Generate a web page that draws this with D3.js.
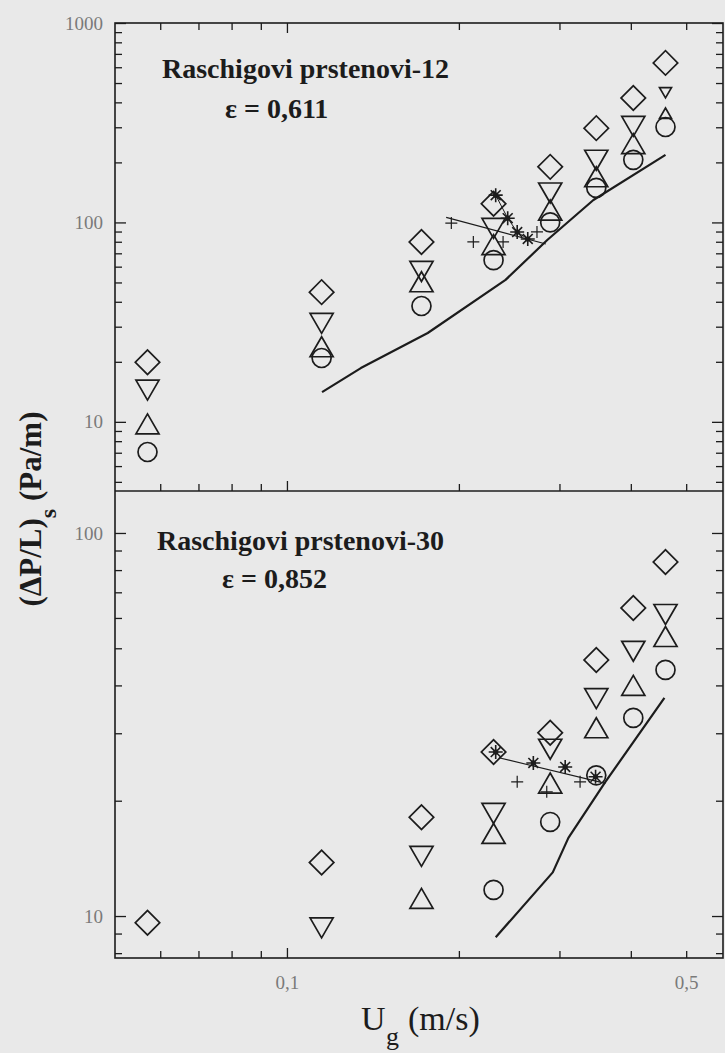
<!DOCTYPE html>
<html>
<head>
<meta charset="utf-8">
<script src="https://cdn.jsdelivr.net/npm/d3@7"></script>
<style>
  body { margin: 0; background: #e9e9e9; }
  svg { display: block; }
  text { font-family: "Liberation Serif", "Times New Roman", serif; }
</style>
</head>
<body>
<svg id="chart"></svg>
<script>
// gas velocity columns (m/s)
const ugCols = [0.057, 0.115, 0.172, 0.23, 0.289, 0.348, 0.404, 0.46]

// panel A - Raschig rings 12, eps = 0,611
const aDiamond = [19.9, 44.7, 79.8, 124, 190, 297, 421, 631]
const aDownTri = [15.0, 32.4, 59, 97, 146, 213, 315, 456]
const aUpTri = [9.4, 22.9, 48.5, 74.5, 111, 163, 239, 346]
const aCircle = [7.06, 20.9, 38.1, 64.7, 100, 149, 206, 301]
const aLineU = [0.1152, 0.1347, 0.1764, 0.2414, 0.2856, 0.344, 0.46]
const aLineP = [14.1, 18.6, 27.9, 51.5, 81.6, 129.5, 218]
const aStarU = [0.232, 0.2435, 0.253, 0.264]
const aStarP = [137, 105, 89.5, 82.6]
const aPlusU = [0.194, 0.212, 0.239, 0.274]
const aPlusP = [99.3, 79.8, 79.8, 89.6]
const aFitU = [0.19, 0.284]
const aFitP = [106, 78]

// panel B - Raschig rings 30, eps = 0,852
const bDiamond = [9.6, 13.8, 18.1, 26.8, 30.1, 46.6, 63.7, 84]
const bDownTri = [null, 9.5, 14.6, 18.9, 27.8, 37.7, 50.1, 62.5]
const bUpTri = [null, null, 10.9, 16.1, 21.8, 30.4, 39.2, 52.6]
const bCircle = [null, null, null, 11.7, 17.6, 23.3, 32.9, 43.9]
const bLineU = [0.232, 0.292, 0.311, 0.361, 0.458]
const bLineP = [8.8, 13.0, 16.0, 22.4, 37.1]
const bStarU = [0.232, 0.270, 0.307, 0.347]
const bStarP = [26.8, 25.1, 24.5, 23.1]
const bPlusU = [0.253, 0.285, 0.326]
const bPlusP = [22.4, 21.1, 22.4]
const bFitU = [0.235, 0.361]
const bFitP = [25.9, 22.2]

const xMinor = [0.06, 0.07, 0.08, 0.09, 0.2, 0.3, 0.4, 0.5]
const xMajor = [0.1]
const xLabels = { 0.1: "0,1", 0.5: "0,5" }

const width = 725, height = 1053
const ink = "#1c1c1c"
const fLeft = 115, fRight = 723, fTop = 23, fMid = 491, fBottom = 958

const svg = d3.select("#chart").attr("width", width).attr("height", height)
svg.append("rect").attr("width", width).attr("height", height).attr("fill", "#e9e9e9")

const x = d3.scaleLog().domain([0.05, 0.58]).range([fLeft, fRight])
const yA = d3.scaleLog().domain([4.5, 1000]).range([fMid, fTop])
const yB = d3.scaleLog().domain([7.77, 128.7]).range([fBottom, fMid])

const decadeTicks = (lo, hi) => {
  let out = []
  for (let e = -2; e < 4; e++) for (let m = 1; m < 10; m++) {
    let v = m * Math.pow(10, e)
    if (v >= lo && v <= hi) out.push(+v.toPrecision(3))
  }
  return out
}

const styleAxis = g => {
  g.select(".domain").remove()
  g.selectAll(".tick line").attr("stroke", ink).attr("stroke-width", 1.3)
  g.selectAll(".tick text").attr("fill", "#7a7a7a").style("font-size", "19px")
    .style("font-family", "'Liberation Serif', serif")
  return g
}

const yAxes = (y, lo, hi, majors) => {
  let vals = decadeTicks(lo, hi)
  let gl = svg.append("g").attr("transform", `translate(${fLeft},0)`)
    .call(d3.axisLeft(y).tickValues(vals).tickSize(-7).tickPadding(12)
      .tickFormat(d => majors.includes(d) ? d : ""))
  styleAxis(gl)
  gl.selectAll(".tick line").attr("x2", d => majors.includes(d) ? 11 : 7)
  let gr = svg.append("g").attr("transform", `translate(${fRight},0)`)
    .call(d3.axisRight(y).tickValues(vals).tickSize(-7).tickFormat(""))
  styleAxis(gr)
  gr.selectAll(".tick line").attr("x2", d => majors.includes(d) ? -11 : -7)
}

yAxes(yA, 4.5, 1000, [10, 100, 1000])
yAxes(yB, 7.77, 128.7, [10, 100])

const xVals = [...xMinor, ...xMajor]
const xAxisAt = (yPos, dir, labels) => {
  let ax = dir > 0 ? d3.axisTop(x) : d3.axisBottom(x)
  let g = svg.append("g").attr("transform", `translate(0,${yPos})`)
    .call(ax.tickValues(xVals).tickSize(-7).tickPadding(18)
      .tickFormat(d => labels ? (xLabels[d] || "") : ""))
  styleAxis(g)
  g.selectAll(".tick line").attr("y2", d => (xMajor.includes(d) ? 10 : 7) * (dir > 0 ? 1 : -1))
}
xAxisAt(fTop, 1, false)
xAxisAt(fMid, -1, false)
xAxisAt(fBottom, -1, true)

// frame
svg.append("rect").attr("x", fLeft).attr("y", fTop).attr("width", fRight - fLeft).attr("height", fBottom - fTop)
  .attr("fill", "none").attr("stroke", ink).attr("stroke-width", 1.6)
svg.append("line").attr("x1", fLeft).attr("x2", fRight).attr("y1", fMid).attr("y2", fMid)
  .attr("stroke", ink).attr("stroke-width", 1.6)

// markers
const shapes = {
  diamond: { type: d3.symbolSquare, size: 300, rot: 45 },
  down: { type: d3.symbolTriangle, size: 231, rot: 180 },
  up: { type: d3.symbolTriangle, size: 231, rot: 0 },
  circle: { type: d3.symbolCircle, size: 283, rot: 0 }
}

const drawSeries = (y, values, shape, smallIdx) => {
  let s = shapes[shape]
  let pts = values.map((v, i) => ({ u: ugCols[i], v, i })).filter(d => d.v != null)
  svg.append("g").selectAll("path").data(pts).enter().append("path")
    .attr("d", d => d3.symbol(s.type, smallIdx === d.i ? 62 : s.size)())
    .attr("transform", d => `translate(${x(d.u)},${y(d.v)}) rotate(${s.rot})`)
    .attr("fill", "none").attr("stroke", ink).attr("stroke-width", 1.7)
}

const drawLine = (y, us, ps, w) => {
  svg.append("path").datum(us.map((u, i) => [u, ps[i]]))
    .attr("d", d3.line().x(d => x(d[0])).y(d => y(d[1])))
    .attr("fill", "none").attr("stroke", ink).attr("stroke-width", w)
    .attr("stroke-linejoin", "round")
}

const starPath = r => {
  let p = d3.path()
  for (let k = 0; k < 4; k++) {
    let a = k * Math.PI / 4
    p.moveTo(-r * Math.cos(a), -r * Math.sin(a))
    p.lineTo(r * Math.cos(a), r * Math.sin(a))
  }
  return p.toString()
}

const drawStars = (y, us, ps) => {
  let g = svg.append("g").selectAll("g").data(us.map((u, i) => [u, ps[i]])).enter().append("g")
    .attr("transform", d => `translate(${x(d[0])},${y(d[1])})`)
  g.append("path").attr("d", starPath(7)).attr("stroke", ink).attr("stroke-width", 1.6)
  g.append("circle").attr("r", 2.6).attr("fill", ink)
}

const drawPlus = (y, us, ps) => {
  svg.append("g").selectAll("path").data(us.map((u, i) => [u, ps[i]])).enter().append("path")
    .attr("d", "M-6,0H6M0,-6V6")
    .attr("transform", d => `translate(${x(d[0])},${y(d[1])})`)
    .attr("stroke", ink).attr("stroke-width", 1.2)
}

// panel A
drawSeries(yA, aDiamond, "diamond")
drawSeries(yA, aDownTri, "down", 7)
drawSeries(yA, aUpTri, "up", 7)
drawSeries(yA, aCircle, "circle")
drawLine(yA, aLineU, aLineP, 2.2)
drawLine(yA, aStarU, aStarP, 1)
drawLine(yA, aFitU, aFitP, 1.1)
drawStars(yA, aStarU, aStarP)
drawPlus(yA, aPlusU, aPlusP)

// panel B
drawSeries(yB, bDiamond, "diamond")
drawSeries(yB, bDownTri, "down")
drawSeries(yB, bUpTri, "up")
drawSeries(yB, bCircle, "circle")
drawLine(yB, bLineU, bLineP, 2.2)
drawLine(yB, bFitU, bFitP, 1.1)
drawStars(yB, bStarU, bStarP)
drawPlus(yB, bPlusU, bPlusP)

// panel titles
const title = (tx, ty, t1, ex, ey, t2) => {
  svg.append("text").attr("x", tx).attr("y", ty).text(t1)
    .attr("fill", ink).style("font-size", "28px").style("font-weight", "bold")
  svg.append("text").attr("x", ex).attr("y", ey).text(t2)
    .attr("fill", ink).style("font-size", "28px").style("font-weight", "bold")
}
title(162, 78, "Raschigovi prstenovi-12", 225, 118, "ε = 0,611")
title(157, 550, "Raschigovi prstenovi-30", 222, 588, "ε = 0,852")

// axis titles
const yl = svg.append("text").attr("transform", "translate(41,509) rotate(-90)")
  .attr("text-anchor", "middle").attr("fill", ink)
  .style("font-size", "31px").style("font-weight", "bold")
yl.append("tspan").text("(ΔP/L)")
yl.append("tspan").text("s").attr("dy", 15).style("font-size", "24px")
yl.append("tspan").text(" (Pa/m)").attr("dy", -15)

const xTitle = (tx, ty, t, fs) => svg.append("text").attr("x", tx).attr("y", ty).text(t)
  .attr("fill", ink).style("font-size", fs)
xTitle(361, 1030, "U", "34px")
xTitle(386, 1045, "g", "26px")
xTitle(408, 1030, "(m/s)", "34px")
</script>
</body>
</html>
